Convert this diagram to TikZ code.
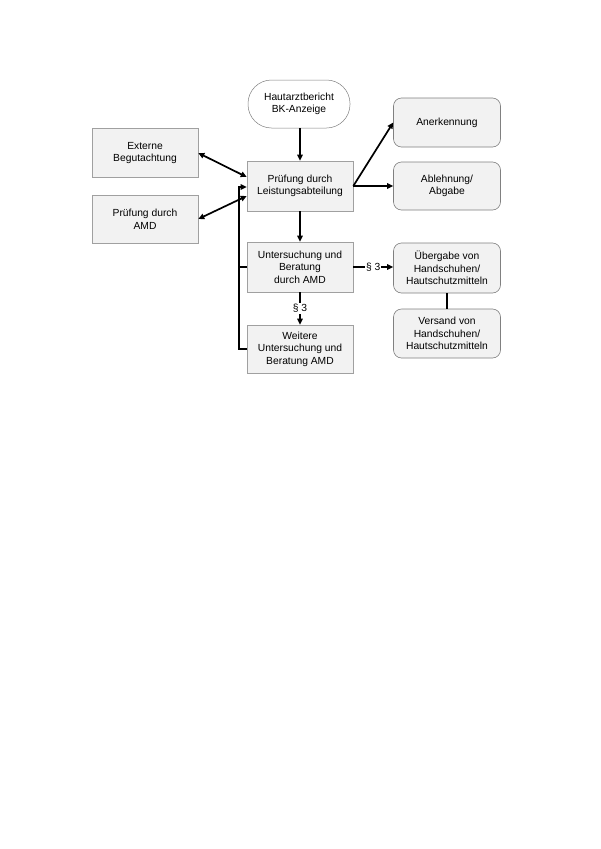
\documentclass[tikz,border=0pt]{standalone}
\usepackage{fontspec}
\setmainfont{Liberation Sans}
\usetikzlibrary{arrows.meta}
\definecolor{boxfill}{HTML}{F2F2F2}
\definecolor{boxline}{HTML}{A0A0A0}
\definecolor{rline}{HTML}{808080}
\begin{document}
\begin{tikzpicture}[x=1pt,y=-1pt,
  base/.style={align=center,font=\fontsize{10.3}{12.6}\selectfont,inner sep=1pt},
  sqbox/.style={base,draw=boxline,fill=boxfill,line width=0.6pt,minimum width=106pt,minimum height=49pt},
  rbox/.style={base,draw=rline,fill=boxfill,line width=0.6pt,rounded corners=8pt,minimum width=107pt,minimum height=49pt},
  startbox/.style={base,draw=rline,fill=white,line width=0.5pt,rounded corners=23.5pt,minimum width=102pt,minimum height=48pt},
  conn/.style={line width=1.7pt,black},
  arr/.style={conn,-{Triangle[length=6pt,width=5.5pt]}},
  darr/.style={conn,{Triangle[length=6pt,width=5.5pt]}-{Triangle[length=6pt,width=5.5pt]}},
  lbl/.style={fill=white,font=\fontsize{10.3}{12.6}\selectfont,inner sep=1pt}
]
\useasboundingbox (0,0) rectangle (600,849);
\fill[white] (0,0) rectangle (600,849);

\node[sqbox] (ext) at (145,153) {Externe\\Begutachtung};
\node[sqbox,minimum height=48pt] (amd) at (145,219) {Prüfung durch\\AMD};
\node[startbox] (haut) at (299,104) {Hautarztbericht\\BK-Anzeige};
\node[sqbox,minimum height=50pt] (pruef) at (300,186) {Prüfung durch\\Leistungsabteilung};
\node[rbox] (aner) at (447,122.5) {Anerkennung};
\node[rbox,minimum height=48pt] (abl) at (447,186) {Ablehnung/\\Abgabe};
\node[sqbox,minimum height=50pt] (unt) at (300,267) {Untersuchung und\\Beratung\\durch AMD};
\node[sqbox,minimum height=48pt] (weit) at (300,349) {Weitere\\Untersuchung und\\Beratung AMD};
\node[rbox,minimum height=50pt] (ueb) at (447,268) {Übergabe von\\Handschuhen/\\Hautschutzmitteln};
\node[rbox] (vers) at (447,333.5) {Versand von\\Handschuhen/\\Hautschutzmitteln};

\coordinate (pin1) at ([yshift=9pt]pruef.west);
\coordinate (pin2) at ([yshift=-10pt]pruef.west);
\coordinate (pin3) at ([yshift=-1pt]pruef.west);
\coordinate (bus) at (239,349);

\draw[arr] (haut.south -| pruef.north) -- (pruef.north);
\draw[darr] (ext.east) -- (pin1);
\draw[darr] (amd.east) -- (pin2);
\draw[arr] (weit.west) -- (bus) |- (pin3);
\draw[conn] (unt.west) -- (bus |- unt.west);
\draw[arr] (pruef.east) -- (aner.west);
\draw[arr] (pruef.east) -- (abl.west);
\draw[arr] (pruef) -- (unt);
\draw[arr] (unt) -- node[lbl] {§ 3} (weit);
\draw[arr] (unt.east) -- node[lbl] {§ 3} (unt.east -| ueb.west);
\draw[conn] (ueb) -- (vers);
\end{tikzpicture}
\end{document}
